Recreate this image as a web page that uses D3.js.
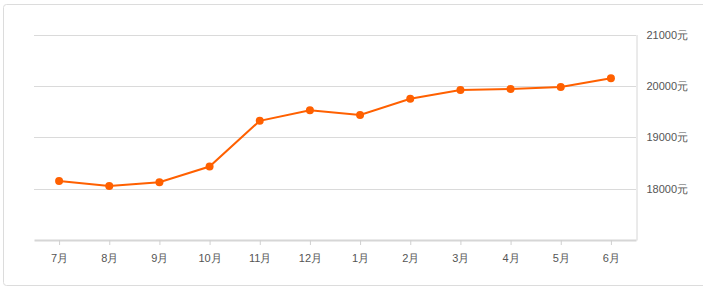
<!DOCTYPE html>
<html lang="zh">
<head>
<meta charset="UTF-8">
<title>房价走势</title>
<script src="https://d3js.org/d3.v7.min.js"></script>
<style>
  body { margin: 0; background: #fff; }
  svg { display: block; font-family: "Liberation Sans", Arial, "Noto Sans CJK SC", sans-serif; }
</style>
</head>
<body>
<svg id="canvas"></svg>
<script>
let months = ['7月','8月','9月','10月','11月','12月','1月','2月','3月','4月','5月','6月']
let prices = [18150, 18050, 18125, 18430, 19320, 19525, 19435, 19750, 19920, 19940, 19980, 20150]
let yTicks = [18000, 19000, 20000, 21000]

let width = 703
let height = 289
let plotLeft = 34
let plotRight = 636
let plotTop = 34.5
let plotBottom = 240

let svg = d3.select('svg')
  .attr('width', width)
  .attr('height', height)

// outer box (right edge runs off the picture)
svg.append('rect')
  .attr('x', 3.5).attr('y', 4.5)
  .attr('width', 720).attr('height', 281)
  .attr('rx', 3)
  .attr('fill', 'none')
  .attr('stroke', '#dcdcdc')

let xScale = d3.scalePoint()
  .domain(months)
  .range([plotLeft, plotRight])
  .padding(0.5)

let yScale = d3.scaleLinear()
  .domain([17000, 21000])
  .range([plotBottom, plotTop])

// grid lines
svg.append('g')
  .selectAll('line')
  .data(yTicks)
  .enter()
  .append('line')
  .attr('x1', plotLeft).attr('x2', plotRight)
  .attr('y1', d => Math.round(yScale(d)) + 0.5)
  .attr('y2', d => Math.round(yScale(d)) + 0.5)
  .attr('stroke', '#dadada')

// right axis
let yAxis = d3.axisRight(yScale)
  .tickValues(yTicks)
  .tickSize(0)
  .tickPadding(10)
  .tickFormat(d => d + '元')
let gy = svg.append('g')
  .attr('transform', 'translate(' + (plotRight + 0.5) + ',0)')
  .call(yAxis)
gy.select('.domain').attr('stroke', '#d6d6d6')
gy.selectAll('text').attr('fill', '#555').attr('font-size', 11)

// bottom axis
let xAxis = d3.axisBottom(xScale)
  .tickSizeInner(5)
  .tickSizeOuter(0)
  .tickPadding(9)
let gx = svg.append('g')
  .attr('transform', 'translate(0,' + plotBottom + ')')
  .call(xAxis)
gx.select('.domain').attr('stroke', '#d6d6d6').attr('stroke-width', 2)
gx.selectAll('.tick line').attr('stroke', '#d0d0d0')
gx.selectAll('text').attr('fill', '#555').attr('font-size', 11)

// line + points
let line = d3.line()
  .x((d, i) => xScale(months[i]))
  .y(d => yScale(d))

svg.append('path')
  .datum(prices)
  .attr('d', line)
  .attr('fill', 'none')
  .attr('stroke', '#ff6000')
  .attr('stroke-width', 2)

svg.selectAll('circle')
  .data(prices)
  .enter()
  .append('circle')
  .attr('cx', (d, i) => xScale(months[i]))
  .attr('cy', d => yScale(d))
  .attr('r', 4)
  .attr('fill', '#ff6000')
</script>
</body>
</html>
